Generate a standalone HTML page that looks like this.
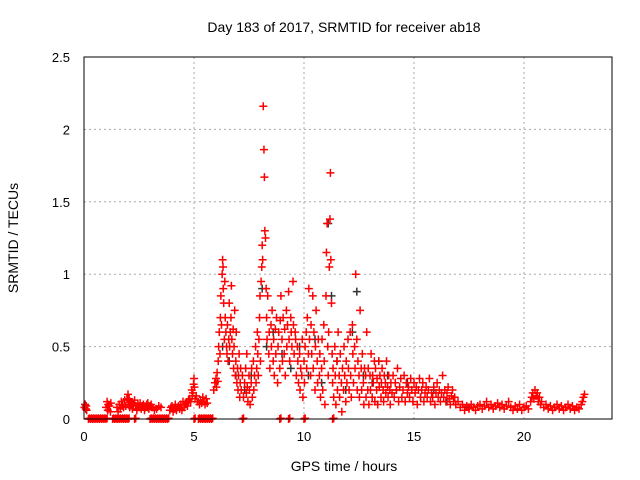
<!DOCTYPE html>
<html><head><meta charset="utf-8"><style>
body{margin:0;background:#fff;}
svg{display:block;font-family:"Liberation Sans",sans-serif;}
</style></head><body>
<svg id="chart" width="640" height="480">
<text x="344" y="32" font-size="14" text-anchor="middle">Day 183 of 2017, SRMTID for receiver ab18</text>
<text x="18" y="238" font-size="14" text-anchor="middle" transform="rotate(-90 18 238)">SRMTID / TECUs</text>
<text x="344" y="471" font-size="14" text-anchor="middle">GPS time / hours</text>
<g id="grid"></g><g id="ticks"></g><g id="black"></g><g id="red"></g>
<rect x="84" y="57" width="528" height="362" fill="none" stroke="#000"/>
</svg>
<script>
const xTicks=[0,5,10,15,20];
const yTicks=[0,0.5,1,1.5,2,2.5];
const yTickLabels=["0","0.5","1","1.5","2","2.5"];
// red points: [hour, value]
const redQuiet=[[0.02,0.08],[0.05,0.1],[0.08,0.07],[0.1,0.09],[0.12,0.06],[1.0,0.08],[1.05,0.12],[1.08,0.06],[1.1,0.1],[1.15,0.09],[1.2,0.05],[1.22,0.11],[1.5,0.08],[1.55,0.05],[1.6,0.1],[1.65,0.07],[1.7,0.12],[1.75,0.09],[1.8,0.08],[1.85,0.13],[1.9,0.09],[1.95,0.14],[2.0,0.17],[2.02,0.1],[2.05,0.14],[2.08,0.08],[2.1,0.12],[2.15,0.11],[2.2,0.07],[2.25,0.1],[2.3,0.13],[2.35,0.09],[2.4,0.06],[2.45,0.1],[2.5,0.08],[2.55,0.11],[2.6,0.07],[2.65,0.09],[2.7,0.1],[2.75,0.06],[2.8,0.08],[2.85,0.1],[2.9,0.11],[2.95,0.07],[3.0,0.09],[3.05,0.1],[3.1,0.08],[3.2,0.06],[3.3,0.07],[3.4,0.09],[3.5,0.08],[3.9,0.06],[3.95,0.08],[4.0,0.09],[4.05,0.05],[4.1,0.07],[4.15,0.1],[4.2,0.06],[4.25,0.08],[4.3,0.09],[4.35,0.07],[4.4,0.1],[4.45,0.06],[4.5,0.12],[4.55,0.08],[4.6,0.1],[4.65,0.11],[4.7,0.09],[4.75,0.13],[4.8,0.14],[4.85,0.12],[4.9,0.2],[4.92,0.16],[4.95,0.18],[4.98,0.24],[5.0,0.28],[5.02,0.22],[5.05,0.14],[5.1,0.16],[5.15,0.12],[5.25,0.1],[5.3,0.13],[5.35,0.11],[5.4,0.15],[5.45,0.12],[5.5,0.1],[5.55,0.14],[5.6,0.11]];
const redStorm=[[5.9,0.2],[5.95,0.25],[6.0,0.28],[6.02,0.22],[6.05,0.32],[6.08,0.26],[6.1,0.4],[6.12,0.5],[6.15,0.6],[6.18,0.45],[6.2,0.7],[6.22,0.85],[6.25,0.65],[6.28,1.0],[6.3,1.1],[6.32,1.05],[6.33,0.9],[6.35,0.8],[6.38,0.55],[6.4,0.95],[6.42,0.7],[6.45,0.6],[6.48,0.5],[6.5,0.45],[6.52,0.65],[6.55,0.4],[6.58,0.55],[6.6,0.8],[6.62,0.5],[6.65,0.6],[6.68,0.7],[6.7,0.92],[6.72,0.55],[6.75,0.45],[6.78,0.62],[6.8,0.35],[6.82,0.5],[6.85,0.75],[6.88,0.3],[6.9,0.4],[6.92,0.6],[6.95,0.25],[6.98,0.35],[7.0,0.2],[7.02,0.3],[7.05,0.45],[7.08,0.15],[7.1,0.25],[7.12,0.35],[7.15,0.2],[7.2,0.3],[7.25,0.15],[7.3,0.25],[7.35,0.35],[7.38,0.18],[7.4,0.45],[7.42,0.22],[7.45,0.12],[7.5,0.3],[7.52,0.2],[7.55,0.1],[7.6,0.25],[7.62,0.35],[7.65,0.15],[7.7,0.4],[7.72,0.2],[7.75,0.3],[7.8,0.5],[7.82,0.25],[7.85,0.35],[7.88,0.6],[7.9,0.45],[7.92,0.3],[7.95,0.55],[7.98,0.7],[8.0,0.85],[8.02,0.4],[8.05,0.95],[8.08,1.05],[8.1,1.2],[8.12,1.1],[8.15,2.16],[8.18,1.86],[8.2,1.67],[8.22,1.3],[8.25,1.25],[8.28,0.9],[8.3,0.7],[8.32,0.55],[8.35,0.85],[8.4,0.45],[8.42,0.6],[8.45,0.35],[8.5,0.65],[8.52,0.5],[8.55,0.75],[8.6,0.4],[8.62,0.55],[8.65,0.3],[8.7,0.62],[8.72,0.45],[8.75,0.7],[8.8,0.25],[8.82,0.5],[8.85,0.6],[8.9,0.35],[8.92,0.68],[8.95,0.85],[9.0,0.55],[9.02,0.4],[9.05,0.7],[9.1,0.45],[9.12,0.62],[9.15,0.3],[9.2,0.75],[9.22,0.5],[9.25,0.65],[9.3,0.88],[9.32,0.55],[9.35,0.4],[9.4,0.7],[9.42,0.6],[9.45,0.5],[9.5,0.95],[9.52,0.65],[9.55,0.45],[9.6,0.6],[9.62,0.55],[9.65,0.3],[9.7,0.5],[9.72,0.4],[9.75,0.25],[9.8,0.45],[9.82,0.2],[9.85,0.35],[9.9,0.3],[9.92,0.55],[9.95,0.15],[10.0,0.4],[10.02,0.25],[10.05,0.5],[10.1,0.6],[10.12,0.35],[10.15,0.7],[10.2,0.45],[10.22,0.9],[10.25,0.55],[10.3,0.3],[10.32,0.65],[10.35,0.45],[10.4,0.85],[10.42,0.35],[10.45,0.6],[10.5,0.2],[10.52,0.5],[10.55,0.75],[10.6,0.4],[10.62,0.25],[10.65,0.55],[10.7,0.3],[10.72,0.45],[10.75,0.15],[10.8,0.35],[10.82,0.55],[10.85,0.2],[10.9,0.65],[10.92,0.4],[10.95,0.1],[11.0,0.85],[11.02,1.15],[11.05,1.35],[11.08,0.5],[11.1,0.3],[11.12,0.6],[11.15,1.05],[11.18,1.38],[11.2,1.7],[11.22,1.1],[11.25,0.8],[11.28,0.45],[11.3,0.25],[11.32,0.35],[11.35,0.15],[11.4,0.5],[11.42,0.3],[11.45,0.1],[11.5,0.4],[11.52,0.2],[11.55,0.6],[11.6,0.3],[11.62,0.15],[11.65,0.45],[11.7,0.25],[11.72,0.05],[11.75,0.35],[11.8,0.2],[11.82,0.5],[11.85,0.3],[11.9,0.12],[11.92,0.4],[11.95,0.25],[12.0,0.55],[12.02,0.35],[12.05,0.2],[12.1,0.6],[12.12,0.3],[12.15,0.15],[12.2,0.65],[12.22,0.45],[12.25,0.25],[12.3,0.5],[12.32,0.35],[12.35,1.0],[12.4,0.55],[12.42,0.2],[12.45,0.4],[12.5,0.3],[12.52,0.15],[12.55,0.75],[12.6,0.35],[12.62,0.2],[12.65,0.45],[12.7,0.25],[12.72,0.1],[12.75,0.35],[12.8,0.3],[12.82,0.15],[12.85,0.6],[12.9,0.2],[12.92,0.35],[12.95,0.1],[13.0,0.3],[13.02,0.2],[13.05,0.45],[13.1,0.15],[13.12,0.3],[13.15,0.25],[13.2,0.4],[13.22,0.12],[13.25,0.35],[13.3,0.2],[13.32,0.28],[13.35,0.1],[13.4,0.4],[13.42,0.22],[13.45,0.3],[13.5,0.15],[13.52,0.25],[13.55,0.35],[13.6,0.2],[13.62,0.12],[13.65,0.3],[13.7,0.25],[13.72,0.18],[13.75,0.4],[13.8,0.22],[13.82,0.15],[13.85,0.3],[13.9,0.2],[13.92,0.1],[13.95,0.25],[14.0,0.18],[14.05,0.3],[14.1,0.15],[14.15,0.25],[14.2,0.2],[14.25,0.35],[14.3,0.12],[14.35,0.22],[14.4,0.28],[14.45,0.15],[14.5,0.2],[14.55,0.3],[14.6,0.12],[14.65,0.25],[14.7,0.18],[14.75,0.22],[14.8,0.15],[14.85,0.28],[14.9,0.2],[14.95,0.12],[15.0,0.25],[15.05,0.18],[15.1,0.22],[15.15,0.1],[15.2,0.2],[15.25,0.28],[15.3,0.15],[15.35,0.2],[15.4,0.25],[15.45,0.12],[15.5,0.18],[15.55,0.22],[15.6,0.15],[15.65,0.2],[15.7,0.28],[15.75,0.12],[15.8,0.18],[15.85,0.15],[15.9,0.22],[15.95,0.1],[16.0,0.18],[16.05,0.25],[16.1,0.15],[16.15,0.2],[16.2,0.12],[16.25,0.18],[16.3,0.3],[16.35,0.15],[16.4,0.2],[16.45,0.12],[16.5,0.18],[16.55,0.22],[16.6,0.14],[16.65,0.1],[16.7,0.16],[16.75,0.2],[16.8,0.12],[16.85,0.15],[16.9,0.1]];
const redTail=[[17.0,0.12],[17.1,0.08],[17.2,0.1],[17.3,0.06],[17.4,0.09],[17.5,0.07],[17.6,0.1],[17.7,0.08],[17.8,0.06],[17.9,0.09],[18.0,0.1],[18.1,0.07],[18.2,0.09],[18.3,0.12],[18.4,0.08],[18.5,0.1],[18.6,0.07],[18.7,0.09],[18.8,0.11],[18.9,0.08],[19.0,0.1],[19.1,0.07],[19.2,0.09],[19.3,0.12],[19.4,0.08],[19.5,0.06],[19.6,0.09],[19.7,0.07],[19.8,0.1],[19.9,0.06],[20.0,0.08],[20.1,0.09],[20.2,0.07],[20.3,0.12],[20.35,0.15],[20.4,0.18],[20.45,0.14],[20.5,0.2],[20.55,0.16],[20.6,0.18],[20.65,0.12],[20.7,0.15],[20.75,0.1],[20.8,0.12],[20.9,0.08],[21.0,0.1],[21.1,0.07],[21.2,0.09],[21.3,0.06],[21.4,0.08],[21.5,0.1],[21.6,0.07],[21.7,0.09],[21.8,0.06],[21.9,0.08],[22.0,0.1],[22.1,0.07],[22.2,0.09],[22.3,0.06],[22.4,0.08],[22.5,0.07],[22.6,0.1],[22.65,0.12],[22.7,0.15],[22.75,0.17]];
const zeroX=[0.2,0.3,0.4,0.5,0.6,0.7,0.8,0.9,1.0,1.3,1.4,1.5,1.6,1.7,1.8,1.9,2.0,2.3,3.0,3.1,3.2,3.3,3.4,3.5,3.6,3.7,3.8,5.0,5.2,5.3,5.4,5.5,5.6,5.7,5.8,7.2,8.9,9.3,10.0,11.3];
const blackPts=[[0.05,0.1],[6.3,0.5],[6.6,0.4],[6.9,0.3],[7.3,0.2],[7.6,0.3],[8.1,0.9],[8.3,0.5],[8.6,0.6],[9.0,0.45],[9.4,0.35],[9.8,0.5],[10.2,0.3],[10.5,0.55],[10.8,0.25],[11.1,1.35],[11.25,0.85],[11.5,0.4],[11.9,0.2],[12.2,0.6],[12.4,0.88],[12.7,0.3],[13.1,0.25],[13.4,0.4],[13.8,0.3],[14.2,0.2],[14.7,0.25],[15.3,0.15],[15.9,0.2],[16.5,0.12],[17.5,0.08],[4.6,0.1],[2.9,0.08]];
const L=84,R=612,T=57,B=419,XMAX=24,YMAX=2.5;
const sx=t=>L+t/XMAX*(R-L), sy=v=>B-v/YMAX*(B-T);
const NS="http://www.w3.org/2000/svg";
function mk(tag,attrs,parent){const e=document.createElementNS(NS,tag);for(const k in attrs)e.setAttribute(k,attrs[k]);parent.appendChild(e);return e;}
const grid=document.getElementById('grid'),ticks=document.getElementById('ticks');
xTicks.forEach(t=>{const x=sx(t);
 if(t>0){const g=mk('line',{x1:x,x2:x,y1:T,y2:B,stroke:'#aaa','stroke-dasharray':'2,3'},grid);
 
 }
 const l=mk('text',{x:x,y:B+22,'font-size':13,'text-anchor':'middle'},ticks);l.textContent=t;
 
 });
yTicks.forEach((v,i)=>{const y=sy(v);
 if(v>0&&v<YMAX){const g=mk('line',{x1:L,x2:R,y1:y,y2:y,stroke:'#aaa','stroke-dasharray':'2,3'},grid);
 
 }
 const l=mk('text',{x:L-14,y:y+5,'font-size':13,'text-anchor':'end'},ticks);l.textContent=yTickLabels[i];
 
 });
function cross(t,v,color,gid,name){const g=document.getElementById(gid);const x=sx(t),y=sy(v);
 const p=mk('path',{d:`M${x-4},${y}h8M${x},${y-4}v8`,stroke:color,'stroke-width':1.5,fill:'none'},g);
 
 }
blackPts.forEach(p=>cross(p[0],p[1],'#333','black','black-point'));
[redQuiet,redStorm,redTail].forEach(arr=>arr.forEach(p=>cross(p[0],p[1],'#f00','red','red-point')));
zeroX.forEach(t=>{cross(t,0,'#f00','red','zero-point');cross(t+0.05,0.005,'#f00','red','zero-point');});
</script>
</body></html>
